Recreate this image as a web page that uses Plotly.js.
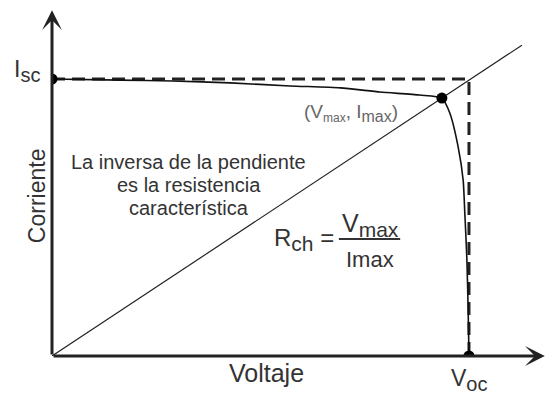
<!DOCTYPE html>
<html>
<head>
<meta charset="utf-8">
<script src="https://cdn.plot.ly/plotly-3.0.1.min.js"></script>
<style>
  html, body { margin: 0; padding: 0; background: #fff; }
  #chart { width: 547px; height: 394px; }
</style>
</head>
<body>
<div id="chart"></div>
<script>
// I-V characteristic of a solar cell (normalised units)
const voltage = [0, 0.163, 0.290, 0.427, 0.571, 0.691, 0.787, 0.882, 0.935, 0.954, 0.974, 0.986, 0.990, 0.995, 0.998, 1.0];
const current = [1.0, 0.996, 0.993, 0.986, 0.975, 0.968, 0.953, 0.942, 0.931, 0.877, 0.755, 0.635, 0.516, 0.347, 0.166, 0];

// Characteristic points
const Isc = 1.0;      // short-circuit current
const Voc = 1.0;      // open-circuit voltage
const Vmax = 0.935;   // maximum power point voltage
const Imax = 0.931;   // maximum power point current

// Characteristic-resistance line runs from the origin through (Vmax, Imax)
const lineEndV = 1.127;

// Axis extents
const xMax = 1.1823;
const yMax = 1.2491;

const ink = '#222';
const textInk = '#333';
const font = 'Liberation Sans, Arial, Helvetica, sans-serif';

const sub = (t, size) => `<sub><span style="font-size:${size}px">${t}</span></sub>`;

const traces = [
  // dashed rectangle Isc -> Voc
  {
    x: [0, Voc, Voc], y: [Isc, Isc, 0],
    mode: 'lines', line: { color: ink, width: 3, dash: '13px,7px' },
    hoverinfo: 'skip', showlegend: false
  },
  // characteristic resistance line
  {
    x: [0, lineEndV], y: [0, lineEndV * Imax / Vmax],
    mode: 'lines', line: { color: ink, width: 1.2 },
    hoverinfo: 'skip', showlegend: false
  },
  // I-V curve
  {
    x: voltage, y: current,
    mode: 'lines', line: { color: '#111', width: 1.6, shape: 'spline', smoothing: 0.6 },
    hoverinfo: 'skip', showlegend: false
  },
  // key points
  {
    x: [0, Vmax, Voc], y: [Isc, Imax, 0],
    mode: 'markers', marker: { color: '#000', size: 11 },
    hoverinfo: 'skip', showlegend: false
  }
];

const axisArrow = (x, y) => ({
  x: x, y: y, xref: 'x', yref: 'y',
  ax: 0, ay: 0, axref: 'x', ayref: 'y',
  text: '', showarrow: true, arrowhead: 3, arrowsize: 1.1,
  arrowwidth: 3, arrowcolor: ink
});

const label = (o) => Object.assign({
  showarrow: false,
  font: { family: font, size: 20, color: textInk },
  xanchor: 'center', yanchor: 'middle'
}, o);

const annotations = [
  axisArrow(xMax - 0.0005, 0),
  axisArrow(0, yMax - 0.0005),
  label({ text: 'Corriente', xref: 'paper', yref: 'paper', x: -0.0304, y: 0.462,
          textangle: -90, font: { family: font, size: 23, color: textInk } }),
  label({ text: 'Voltaje', xref: 'paper', yref: 'paper', x: 0.436, y: -0.049,
          font: { family: font, size: 25, color: textInk } }),
  label({ text: 'I' + sub('sc', 20), xref: 'paper', yref: 'y', x: -0.0507, y: Isc,
          yshift: 8, font: { family: font, size: 23, color: textInk } }),
  label({ text: 'V' + sub('oc', 20), xref: 'x', yref: 'paper', x: Voc, y: -0.068,
          font: { family: font, size: 23, color: textInk } }),
  label({ text: '(V' + sub('max', 12) + ', I' + sub('max', 16) + ')', xref: 'x', yref: 'y',
          x: 0.717, y: 0.877, font: { family: font, size: 19, color: '#666' } }),
  label({ text: 'La inversa de la pendiente', xref: 'x', yref: 'y', x: 0.328, y: 0.700 }),
  label({ text: 'es la resistencia', xref: 'x', yref: 'y', x: 0.328, y: 0.617 }),
  label({ text: 'característica', xref: 'x', yref: 'y', x: 0.328, y: 0.534 }),
  label({ text: 'R' + sub('ch', 21) + ' =', xref: 'x', yref: 'y', x: 0.681, y: 0.419,
          xanchor: 'right', font: { family: font, size: 24, color: textInk } }),
  label({ text: 'V' + sub('max', 21), xref: 'x', yref: 'y', x: 0.763, y: 0.473,
          font: { family: font, size: 25, color: textInk } }),
  label({ text: 'Imax', xref: 'x', yref: 'y', x: 0.763, y: 0.347,
          font: { family: font, size: 22, color: textInk } })
];

const layout = {
  width: 547, height: 394,
  margin: { l: 52, r: 2, t: 10, b: 38, pad: 0 },
  paper_bgcolor: '#fff', plot_bgcolor: '#fff',
  xaxis: { range: [0, xMax], visible: false, fixedrange: true },
  yaxis: { range: [0, yMax], visible: false, fixedrange: true },
  showlegend: false,
  annotations: annotations,
  shapes: [
    // fraction bar of Rch = Vmax / Imax
    { type: 'line', xref: 'x', yref: 'y', x0: 0.688, x1: 0.835, y0: 0.422, y1: 0.422,
      line: { color: textInk, width: 2 } }
  ]
};

Plotly.newPlot('chart', traces, layout, { staticPlot: true, displayModeBar: false });
</script>
</body>
</html>
